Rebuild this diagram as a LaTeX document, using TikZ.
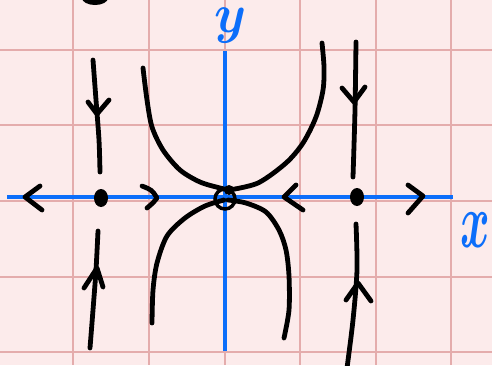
\RequirePackage{fix-cm}
\documentclass[tikz,border=0pt]{standalone}
\usepackage{amsmath}
\usepackage{graphicx}
\definecolor{bgpink}{RGB}{252,235,235}
\definecolor{gridpink}{RGB}{228,172,172}
\definecolor{axisblue}{RGB}{12,110,250}
\tikzset{
  gridline/.style={draw=gridpink, line width=1.4pt},
  axisline/.style={draw=axisblue, line width=4.5pt},
  traj/.style={draw=black, line width=4.8pt, line cap=round, line join=round},
  tip/.style={draw=black, line width=4.8pt, line cap=round, line join=round},
  fixpt/.style={fill=black},
  axislabel/.style={text=axisblue, inner sep=0pt, font=\fontsize{60}{60}\selectfont\boldmath},
}
\begin{document}
\begin{tikzpicture}[x=1pt, y=-1pt]
\fill[bgpink] (0,0) rectangle (492,365);
\useasboundingbox (0,0) rectangle (492,365);
% grid
\foreach \gx in {73,149,225,300,376,451} \draw[gridline] (\gx,0) -- (\gx,365);
\foreach \gy in {50,125,201,277,352} \draw[gridline] (0,\gy) -- (492,\gy);
% axes
\coordinate (yb) at (225,351);
\coordinate (yt) at (225,51);
\coordinate (xl) at (7,197);
\coordinate (xr) at (453,197);
\draw[axisline] (yb) -- (yt);
\draw[axisline] (xl) -- (xr);
\node[axislabel] (ylab) at (230,26) {\scalebox{0.85}[0.92]{$y$}};
\node[axislabel] (xlab) at (475,230) {\scalebox{0.75}[1.3]{$x$}};
% top-left partial dot
\fill[fixpt] (95,-2) ellipse [x radius=13, y radius=7];
% vertical trajectories
\draw[traj] plot[smooth] coordinates {(93,60) (96,100) (99,140) (100,172)};
\draw[tip] (88,102) -- (97,114) -- (109,100);
\draw[traj] plot[smooth] coordinates {(98,231) (96,270) (93,310) (90,348)};
\draw[tip] (84,288) -- (97,268) -- (103,287);
\draw[traj] plot[smooth] coordinates {(356,42) (355,110) (353,177)};
\draw[tip] (342,88) -- (354,102) -- (365,87);
\draw[traj] plot[smooth] coordinates {(356,224) (357,270) (353,320) (347,368)};
\draw[tip] (346,300) -- (358,283) -- (371,301);
% horizontal arrows
\draw[tip] (40,186) -- (25,197) -- (42,210);
\draw[tip] (142,186) .. controls (152,190) .. (157,198) .. controls (153,203) .. (147,208);
\draw[tip] (296,185) -- (284,197) -- (303,210);
\draw[tip] (408,185) -- (423,196) -- (408,213);
% separatrices
\draw[traj] plot[smooth] coordinates {(143,68) (147,100) (152,127) (163,150) (180,170) (200,182) (220,188) (229,190)};
\draw[traj] plot[smooth] coordinates {(229,190) (258,183) (286,163) (303,143) (316,117) (323,90) (324,67) (322,43)};
\draw[traj] plot[smooth] coordinates {(224,200) (205,206) (185,218) (167,236) (157,263) (153,290) (152,323)};
\draw[traj] plot[smooth] coordinates {(228,200) (246,203) (266,212) (279,230) (286,250) (289,276) (289,310) (284,338)};
% fixed points
\fill[fixpt] (101,198) ellipse [x radius=7, y radius=9];
\fill[fixpt] (357,197) ellipse [x radius=7, y radius=9];
\draw[draw=black, line width=3.5pt] (225,199) circle [radius=10];
\fill[fixpt] (229,190) circle [radius=5];
\end{tikzpicture}
\end{document}
